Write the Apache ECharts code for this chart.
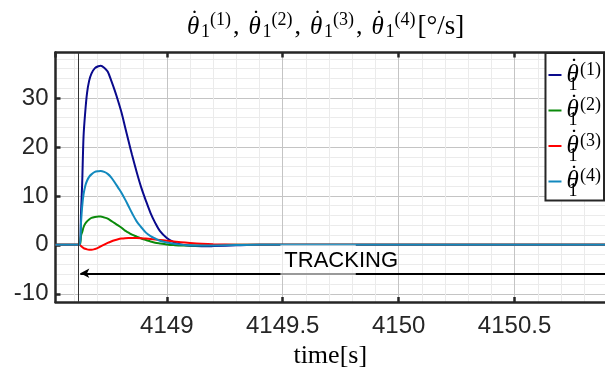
<!DOCTYPE html>
<html><head><meta charset="utf-8">
<script src="https://cdn.jsdelivr.net/npm/echarts@6/dist/echarts.min.js"></script>
<style>html,body{margin:0;padding:0;background:#fff}#chart{width:605px;height:374px}</style>
</head><body><div id="chart"></div>
<script>
// sample times [s]
const timeS = [4148.52, 4148.624, 4148.630, 4148.635, 4148.641, 4148.648, 4148.656, 4148.665, 4148.675, 4148.690,
  4148.705, 4148.715, 4148.730, 4148.745, 4148.760, 4148.775, 4148.790, 4148.805, 4148.820, 4148.835,
  4148.850, 4148.870, 4148.890, 4148.910, 4148.930, 4148.950, 4148.970, 4149.00, 4149.03, 4149.06,
  4149.10, 4149.15, 4149.20, 4149.30, 4149.40, 4149.60, 4150.89];
// joint rates [deg/s]
const rate1 = [0, 0, 6.5, 12.5, 22.2, 27.0, 31.0, 33.5, 35.0, 36.1, 36.5, 36.6, 36.2, 35.4, 33.6, 31.6, 29.4, 27.0, 24.1, 21.2,
  18.4, 14.9, 11.7, 9.0, 6.5, 4.5, 2.85, 1.4, 0.55, 0.1, -0.2, -0.3, -0.25, -0.1, 0, 0, 0];
const rate2 = [0, 0, 1.9, 2.6, 3.6, 4.3, 4.8, 5.2, 5.5, 5.7, 5.8, 5.8, 5.6, 5.35, 4.9, 4.45, 4.0, 3.5, 2.9, 2.5,
  2.1, 1.7, 1.3, 1.0, 0.7, 0.45, 0.3, 0.1, -0.05, -0.15, -0.15, -0.1, -0.05, 0, 0, 0, 0];
const rate3 = [0, 0, -0.25, -0.45, -0.65, -0.8, -0.92, -1.0, -1.02, -0.85, -0.55, -0.3, 0.05, 0.4, 0.7, 0.95, 1.15, 1.28, 1.36, 1.4,
  1.42, 1.4, 1.35, 1.28, 1.2, 1.1, 1.0, 0.85, 0.7, 0.55, 0.4, 0.25, 0.15, 0.05, 0.02, 0, 0];
const rate4 = [0, 0, 4.5, 7.8, 10.3, 12.0, 13.1, 13.9, 14.4, 14.9, 15.05, 15.1, 14.9, 14.5, 13.8, 12.8, 11.7, 10.6, 9.3, 7.9,
  6.5, 4.8, 3.6, 2.5, 1.8, 1.3, 0.85, 0.5, 0.25, 0.05, -0.1, -0.15, -0.12, -0.05, 0, 0, 0];
const seriesTags = ['(1)', '(2)', '(3)', '(4)'];
const seriesRates = [rate1, rate2, rate3, rate4];
const seriesColors = ['#0a0a8c', '#0b8a0b', '#ff0000', '#1289be'];

// axis ranges and annotation values
const xRange = [4148.52, 4150.89];
const yRange = [-11.67, 39.3];
const trackStart = 4148.624;   // onset of tracking
const arrowLevel = -5.8;
const trackLabel = 'TRACKING';
const trackLabelAt = [4149.507, -3.2];
const trackBox = [[4149.49, 0.0], [4149.815, -6.3]];

const SERIF = '"Liberation Serif", "DejaVu Serif", serif';
const SANS = '"Liberation Sans", Arial, sans-serif';
const INK = '#262626';

// Rich-text pieces for a dotted theta with subscript and superscript.
// Tokens given a (near) zero width are drawn from their start without
// advancing, so fixed-width gap tokens place the dot over the theta
// and, in the legend, the subscript under it. The dot is top-aligned in
// a tall line, the scripts are shifted with vertical padding.
const base = { fontFamily: SERIF, fontWeight: 'normal', color: '#000' };
const gap = (w, lh) => ({ ...base, fontSize: 8, lineHeight: lh, width: w, verticalAlign: 'middle' });
const titleRich = {
  ga: gap(3.5, 38),
  gb: gap(10.5, 38),
  th: { ...base, fontStyle: 'italic', fontSize: 25, lineHeight: 38, width: 0.01, verticalAlign: 'middle' },
  dt: { ...base, fontSize: 24, lineHeight: 24, width: 0.01, verticalAlign: 'top' },
  sb: { ...base, fontSize: 18, lineHeight: 18, verticalAlign: 'middle', padding: [10, 0, 0, 0] },
  sp: { ...base, fontSize: 18, lineHeight: 18, verticalAlign: 'middle', padding: [0, 0, 13, 0] },
  cm: { ...base, fontSize: 26, lineHeight: 38, verticalAlign: 'middle', padding: [0, 9, 0, 2] },
  un: { ...base, fontSize: 27, lineHeight: 38, verticalAlign: 'middle', padding: [0, 0, 0, 2] }
};
const legendRich = {
  ga: gap(2, 38),
  gb: gap(1.5, 38),
  gc: gap(10, 38),
  th: { ...base, fontStyle: 'italic', fontSize: 25, lineHeight: 38, width: 0.01, verticalAlign: 'middle' },
  dt: { ...base, fontSize: 24, lineHeight: 24, width: 0.01, verticalAlign: 'top' },
  sb: { ...base, fontSize: 18, lineHeight: 18, width: 0.01, verticalAlign: 'bottom' },
  sp: { ...base, fontSize: 18, lineHeight: 18, verticalAlign: 'middle', padding: [0, 0, 10, 0] }
};
const titleTerm = (tag) => `{th|\u03b8}{ga| }{dt|\u02d9}{gb| }{sb|1}{sp|${tag}}`;
const legendTerm = (tag) => `{th|\u03b8}{ga| }{sb|1}{gb| }{dt|\u02d9}{gc| }{sp|${tag}}`;
const seriesNames = seriesTags.map(t => '\u03b8\u03071' + t);

const titleText = seriesTags.map(titleTerm).join('{cm|,}') + '{un|[\u00b0/s]}';

const chart = echarts.init(document.getElementById('chart'), null, { renderer: 'canvas' });

const series = seriesRates.map((vals, k) => ({
  name: seriesNames[k],
  type: 'line',
  xAxisIndex: 0,
  yAxisIndex: 0,
  data: timeS.map((t, i) => [t, vals[i]]),
  showSymbol: false,
  symbol: 'none',
  smooth: 0.3,
  lineStyle: { width: 2, color: seriesColors[k] },
  itemStyle: { color: seriesColors[k] },
  z: 3 + k
}));

series[0].markLine = {
  silent: true,
  animation: false,
  symbol: ['none', 'none'],
  label: { show: false },
  z: 10,
  data: [
    { xAxis: trackStart, lineStyle: { color: '#333', width: 1, type: 'solid' } },
    [
      { coord: [xRange[1], arrowLevel], symbol: 'none', lineStyle: { color: '#000', width: 1.8, type: 'solid' } },
      { coord: [trackStart + 0.003, arrowLevel], symbol: 'arrow', symbolSize: [7, 9] }
    ]
  ]
};

const plainNumber = (v) => String(Math.round(v * 1000) / 1000);

chart.setOption({
  animation: false,
  backgroundColor: '#fff',
  title: {
    text: titleText,
    left: 187,
    top: 8,
    padding: 0,
    textStyle: { fontWeight: 'normal', rich: titleRich }
  },
  legend: {
    data: seriesNames,
    orient: 'vertical',
    right: 1,
    top: 53,
    padding: [3, 3, 0, 3],
    itemGap: -2.5,
    itemWidth: 13,
    itemHeight: 2,
    icon: 'rect',
    backgroundColor: '#fff',
    borderColor: INK,
    borderWidth: 2,
    borderRadius: 0,
    formatter: (name) => legendTerm(seriesTags[seriesNames.indexOf(name)]),
    textStyle: { fontWeight: 'normal', rich: legendRich },
    z: 20
  },
  grid: { left: 55.5, right: -5, top: 52.5, bottom: 70.7, containLabel: false },
  xAxis: [{
    type: 'value',
    position: 'bottom',
    min: xRange[0],
    max: xRange[1],
    name: 'time[s]',
    nameLocation: 'middle',
    nameGap: 41,
    nameTextStyle: { fontFamily: SERIF, fontSize: 26, color: '#000' },
    axisLine: { show: true, onZero: false, lineStyle: { color: INK, width: 2.5 } },
    axisTick: { show: true, inside: true, length: 5, lineStyle: { color: INK, width: 2.5 } },
    minorTick: { show: false, splitNumber: 5 },
    axisLabel: { fontFamily: SANS, fontSize: 24, color: INK, margin: 12, showMinLabel: false, showMaxLabel: false, formatter: plainNumber },
    splitLine: { show: true, lineStyle: { color: '#c4c4c4', width: 1 } },
    minorSplitLine: { show: true, lineStyle: { color: '#ebebeb', width: 1 } }
  }, {
    type: 'value',
    position: 'top',
    min: xRange[0],
    max: xRange[1],
    axisLine: { show: true, onZero: false, lineStyle: { color: INK, width: 2.5 } },
    axisTick: { show: true, inside: true, length: 5, lineStyle: { color: INK, width: 2.5 } },
    axisLabel: { show: false },
    splitLine: { show: false }
  }],
  yAxis: [{
    type: 'value',
    min: yRange[0],
    max: yRange[1],
    axisLine: { show: true, onZero: false, lineStyle: { color: INK, width: 2.5 } },
    axisTick: { show: true, inside: true, length: 5, lineStyle: { color: INK, width: 2.5 } },
    minorTick: { show: false, splitNumber: 5 },
    axisLabel: { fontFamily: SANS, fontSize: 24, color: INK, margin: 7, showMinLabel: false, showMaxLabel: false, formatter: plainNumber },
    splitLine: { show: true, lineStyle: { color: '#c4c4c4', width: 1 } },
    minorSplitLine: { show: true, lineStyle: { color: '#ebebeb', width: 1 } }
  }],
  series: series
});

// label box and text for the tracking phase, placed through the axes
const boxA = chart.convertToPixel({ gridIndex: 0 }, trackBox[0]);
const boxB = chart.convertToPixel({ gridIndex: 0 }, trackBox[1]);
const labelP = chart.convertToPixel({ gridIndex: 0 }, trackLabelAt);
chart.setOption({
  graphic: [{
    type: 'rect',
    z: 50,
    silent: true,
    shape: { x: boxA[0], y: boxA[1], width: boxB[0] - boxA[0], height: boxB[1] - boxA[1] },
    style: { fill: 'rgba(255,255,255,0.6)' }
  }, {
    type: 'text',
    z: 51,
    silent: true,
    x: labelP[0],
    y: labelP[1],
    style: { text: trackLabel, fontFamily: SANS, fontSize: 22, fill: '#000', align: 'left', verticalAlign: 'middle' }
  }]
});
</script>
</body></html>
